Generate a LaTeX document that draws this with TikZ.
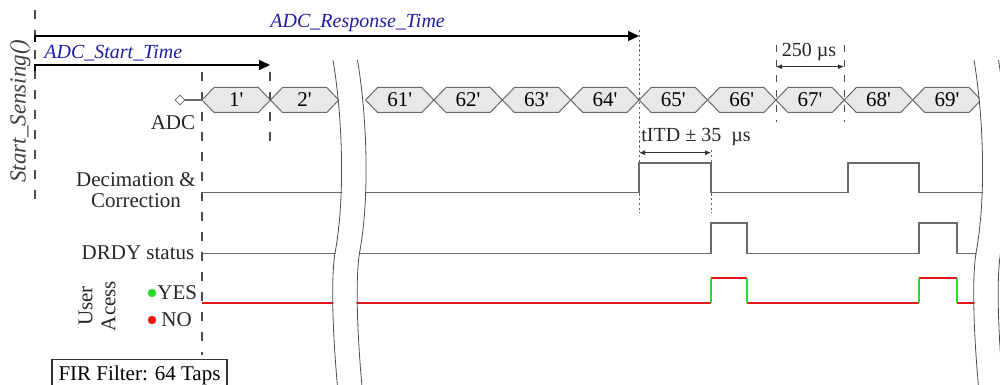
\documentclass[tikz,border=0pt]{standalone}
\usepackage{fontspec}
\setmainfont{Liberation Serif}
\usetikzlibrary{arrows.meta,positioning,shapes.symbols,shapes.geometric}

\definecolor{adcblue}{RGB}{30,30,165}
\definecolor{wavegray}{RGB}{105,105,105}
\definecolor{busfill}{RGB}{232,232,232}
\definecolor{yesgreen}{RGB}{45,215,45}
\definecolor{nored}{RGB}{225,25,25}

\tikzset{
  lbl/.style={font=\fontsize{10.5}{10.5}\selectfont, text=black!85, inner sep=0pt},
  timelbl/.style={font=\fontsize{10}{12}\selectfont\itshape, text=adcblue, inner sep=0pt},
  busbox/.style={shape=signal, signal to=west and east, signal pointer angle=92,
    draw=wavegray, fill=busfill, line width=0.5pt, minimum width=34.2pt,
    minimum height=12.5pt, inner sep=0pt, outer sep=0pt, anchor=west,
    font=\fontsize{10.5}{12}\selectfont},
  wave/.style={draw=wavegray, line width=0.65pt},
  userwave/.style={line width=0.8pt},
  longdash/.style={draw=black!70, line width=0.6pt, dash pattern=on 4.5pt off 5.5pt},
  shortdash/.style={draw=black!70, line width=0.5pt, dash pattern=on 3.5pt off 4pt},
  dotline/.style={draw=black!60, line width=0.4pt, dash pattern=on 1.2pt off 1.2pt},
  timearrow/.style={draw=black, line width=0.7pt, -{Triangle[length=5.5pt,width=5pt]}},
  dimarrow/.style={draw=black!80, line width=0.4pt,
    {Latex[length=3pt,width=2.5pt]}-{Latex[length=3pt,width=2.5pt]}},
  cutline/.style={draw=black!70, line width=0.4pt},
  pics/cutmark/.style={code={
    \draw[white, line width=11.5pt] (12.25,60) .. controls (22.25,120) and (24.25,200) .. (14.25,253)
      .. controls (9.25,285) and (13.25,350) .. (17.25,392);
    \draw[cutline] (0,60) .. controls (10,120) and (12,200) .. (2,253)
      .. controls (-3,285) and (1,350) .. (5,392);
    \draw[cutline] (24.5,60) .. controls (34.5,120) and (36.5,200) .. (26.5,253)
      .. controls (21.5,285) and (25.5,350) .. (29.5,392);
  }}
}

\begin{document}
\begin{tikzpicture}[x=0.5pt,y=-0.5pt]
  \useasboundingbox (0,0) rectangle (1000,385);
  \clip (0,0) rectangle (1000,385);

  % guide lines
  \draw[longdash] (35,10) -- (35,205);
  \draw[longdash] (202,72) -- (202,355);
  \draw[longdash] (270,72) -- (270,145);
  \draw[shortdash] (776,45) -- (776,122);
  \draw[shortdash] (844,45) -- (844,122);
  \draw[dotline] (639,30) -- (639,213);
  \draw[dotline] (711,150) -- (711,213);

  % start / response times
  \node[lbl, rotate=90, font=\fontsize{11.5}{12}\selectfont\itshape, text=black!75] (sensing) at (20,111) {Start\_Sensing()};
  \coordinate (resp0) at (35,42);
  \coordinate (resp1) at (639,36);
  \coordinate (start0) at (35,71);
  \coordinate (start1) at (270,65);
  \draw[timearrow] (resp0) |- (resp1);
  \draw[timearrow] (start0) |- (start1);
  \node[timelbl, anchor=west] (resplbl) at (270,23) {ADC\_Response\_Time};
  \node[timelbl, anchor=west] (startlbl) at (44,53) {ADC\_Start\_Time};

  % ADC samples
  \node[draw=wavegray, fill=white, diamond, minimum size=5pt, inner sep=0pt] (adcpin) at (180,100) {};
  \node[lbl] (adclbl) at (173,123) {ADC};
  \node[busbox] (s1) at (202,100) {1\textquotesingle};
  \node[busbox, right=0pt of s1] (s2) {2\textquotesingle};
  \draw[wave] (adcpin) -- (s1.west);
  \node[busbox] (s61) at (365.5,100) {61\textquotesingle};
  \foreach \k [remember=\k as \prev (initially 61)] in {62,...,69}
    \node[busbox, right=0pt of s\prev] (s\k) {\k\textquotesingle};

  % timing marks
  \coordinate (p0) at (776,66.7);
  \coordinate (p1) at (844,66.7);
  \draw[dimarrow] (p0) -- (p1);
  \node[lbl, font=\fontsize{10}{12}\selectfont] (period) at (809,52) {250 µs};
  \coordinate (d0) at (639,152.7);
  \coordinate (d1) at (711,152.7);
  \draw[dimarrow] (d0) -- (d1);
  \node[lbl, anchor=west, font=\fontsize{10}{12}\selectfont] (itd) at (641,137) {tITD ± 35~~µs};

  % Decimation & Correction
  \draw[wave] (202,192.5) -| (639,163) -| (711,192.5) -| (848,163) -| (919,192.5) -- (995,192.5);
  \node[lbl, align=center] (decilbl) at (136,190) {Decimation \&\\Correction};

  % DRDY status
  \draw[wave] (202,253.5) -| (711,223) -| (747,253.5) -| (919,223) -| (957,253.5) -- (995,253.5);
  \node[lbl] (drdylbl) at (138,253) {DRDY status};

  % User access
  \draw[nored, userwave] (202,303) -- (711,303) (747,303) -- (919,303) (957,303) -- (995,303);
  \foreach \a/\b in {711/747, 919/957} {
    \draw[nored, userwave] (\a,278) -- (\b,278);
    \draw[yesgreen, userwave] (\a,303) -- (\a,278) (\b,278) -- (\b,303);
  }
  \node[lbl, rotate=90, align=center, font=\fontsize{10.5}{11.5}\selectfont] (userlbl) at (97,306) {User\\Acess};
  \fill[yesgreen] (152,293) circle (2.1pt);
  \node[lbl, anchor=west] (yeslbl) at (157,293) {YES};
  \fill[nored] (152,320) circle (2.1pt);
  \node[lbl, anchor=west] (nolbl) at (161,320) {NO};

  % axis breaks
  \pic at (333,0) {cutmark};
  \pic at (974,0) {cutmark};

  % filter box
  \node[draw=black!80, line width=0.6pt, anchor=north, minimum width=87.5pt, inner sep=3pt,
    font=\fontsize{10.5}{12}\selectfont] (fir) at (139.5,359) {FIR Filter: 64 Taps};
\end{tikzpicture}
\end{document}
